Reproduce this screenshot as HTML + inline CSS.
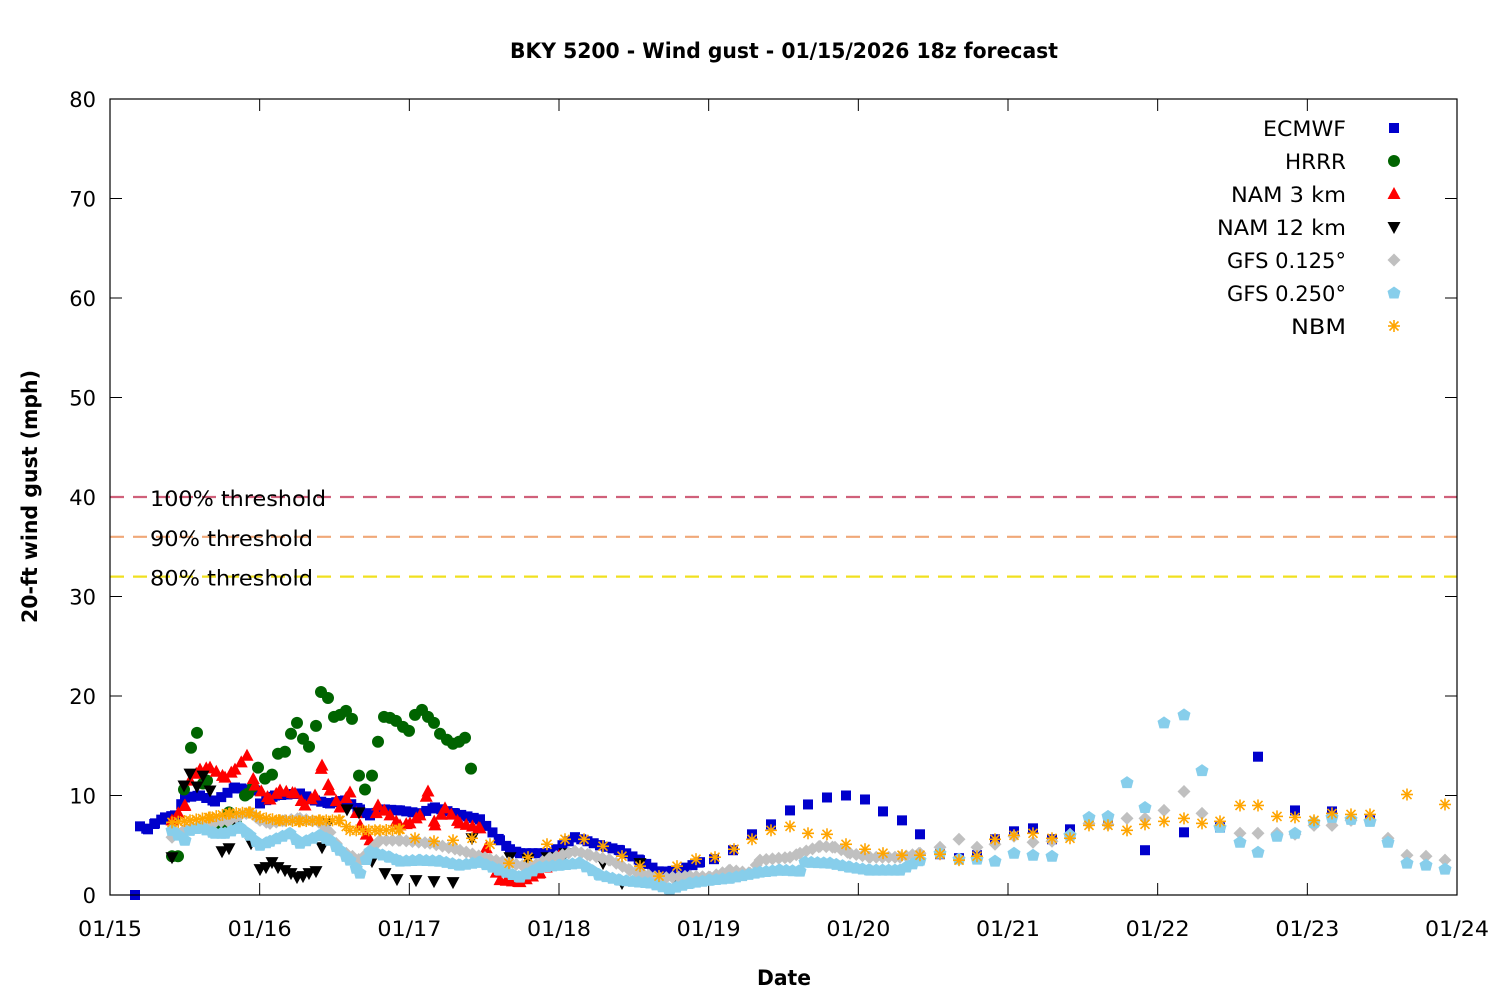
<!DOCTYPE html>
<html><head><meta charset="utf-8"><style>body{margin:0;background:#fff}svg{display:block;font-family:"DejaVu Sans","Liberation Sans",sans-serif}</style></head><body>
<svg id="s" width="1500" height="1000" xmlns="http://www.w3.org/2000/svg">
<rect width="1500" height="1000" fill="#fff"/>
<text x="510" y="58" font-size="21" font-weight="bold" textLength="548" lengthAdjust="spacingAndGlyphs">BKY 5200 - Wind gust - 01/15/2026 18z forecast</text>
<text x="757" y="985" font-size="21" font-weight="bold" textLength="54" lengthAdjust="spacingAndGlyphs">Date</text>
<text transform="translate(37,623) rotate(-90)" font-size="21" font-weight="bold" textLength="253" lengthAdjust="spacingAndGlyphs">20-ft wind gust (mph)</text>
<g id="ax"></g>
<g id="data"></g>
<rect x="110" y="99" width="1347" height="796" fill="none" stroke="#000" stroke-width="1.2"/>
</svg>
<script>
const NS="http://www.w3.org/2000/svg";
const X0=110,X1=1457,Y0=895,PY=9.95;
const ax=document.getElementById('ax'),dg=document.getElementById('data');
function el(p,tag,a,t){const e=document.createElementNS(NS,tag);for(const k in a)e.setAttribute(k,a[k]);if(t!==undefined)e.textContent=t;p.appendChild(e);return e;}
const Y=v=>Y0-v*PY;
for(let i=0;i<=8;i++){const y=Y(i*10);el(ax,'text',{x:96,y:y+8,'text-anchor':'end','font-size':21},String(i*10));
if(i>0&&i<8){el(ax,'line',{x1:X0,x2:X0+12,y1:y,y2:y,stroke:'#000'});el(ax,'line',{x1:X1-12,x2:X1,y1:y,y2:y,stroke:'#000'});}}
const days=['01/15','01/16','01/17','01/18','01/19','01/20','01/21','01/22','01/23','01/24'];
days.forEach((d,i)=>{const x=X0+i*(X1-X0)/9;el(ax,'text',{x:x-32,y:936,'font-size':21,textLength:64,lengthAdjust:'spacingAndGlyphs'},d);
if(i>0&&i<9){el(ax,'line',{x1:x,x2:x,y1:Y0,y2:Y0-12,stroke:'#000'});el(ax,'line',{x1:x,x2:x,y1:99,y2:111,stroke:'#000'});}});
[[40,'#d0607a','100% threshold',176],[36,'#f0a878','90% threshold',163],[32,'#f0e020','80% threshold',163]].forEach(([v,c,t,w])=>{
el(ax,'line',{x1:X0,x2:X1,y1:Y(v),y2:Y(v),stroke:c,'stroke-width':2.2,'stroke-dasharray':'14,9'});
el(ax,'text',{x:150,y:Y(v)+9,'font-size':21,textLength:w,lengthAdjust:'spacingAndGlyphs'},t);});
function dense(keys,step){const out=[];for(let i=0;i<keys.length-1;i++){const[a,va]=keys[i],[b,vb]=keys[i+1];for(let x=a;x<b;x+=step){out.push([x,va+(vb-va)*(x-a)/(b-a)]);}}out.push(keys[keys.length-1]);return out;}
function mk(p,type,x,y){
if(type=='sq')el(p,'rect',{x:x-5,y:y-5,width:10,height:10,fill:'#0000cc'});
else if(type=='ci')el(p,'circle',{cx:x,cy:y,r:6,fill:'#006400'});
else if(type=='tu')el(p,'polygon',{points:`${x},${y-7} ${x-6.5},${y+5} ${x+6.5},${y+5}`,fill:'#ff0000'});
else if(type=='td')el(p,'polygon',{points:`${x},${y+7} ${x-6.5},${y-5} ${x+6.5},${y-5}`,fill:'#000'});
else if(type=='di')el(p,'polygon',{points:`${x},${y-6.5} ${x+6.5},${y} ${x},${y+6.5} ${x-6.5},${y}`,fill:'#c0c0c0'});
else if(type=='pe')el(p,'polygon',{points:`${x},${y-6.5} ${x+6.5},${y-2} ${x+4.5},${y+5.5} ${x-4.5},${y+5.5} ${x-6.5},${y-2}`,fill:'#87ceeb'});
else if(type=='as'){const g=el(p,'g',{stroke:'#ffa500','stroke-width':1.6});
el(g,'line',{x1:x-6,x2:x+6,y1:y,y2:y});el(g,'line',{x1:x,x2:x,y1:y-6,y2:y+6});el(g,'line',{x1:x-4.5,x2:x+4.5,y1:y-4.5,y2:y+4.5});el(g,'line',{x1:x-4.5,x2:x+4.5,y1:y+4.5,y2:y-4.5});}}
function plot(type,pts){pts.forEach(([x,v])=>mk(dg,type,x,Y(v)));}
const ec=dense([[140,6.9],[148,6.6],[155,7.2],[165,7.8],[175,8],[185,9.8],[200,10],[215,9.4],[235,10.8],[255,10.5],[260,9.2],[275,10],[300,10.2],[315,9.5],[330,9.2],[345,9.5],[360,8.6],[370,8],[385,8.6],[400,8.5],[420,8.2],[435,8.8],[455,8.2],[480,7.6],[500,5.5],[510,4.6],[520,4.2],[550,4.2],[575,5.8],[600,5],[620,4.5],[640,3.5],[660,2.3],[680,2.5],[700,3.3]],6.24);
ec.unshift([135,0]);
ec.push([714,3.6],[733,4.5],[752,6.1],[771,7.1],[790,8.5],[808,9.1],[827,9.8],[846,10],[865,9.6],[883,8.4],[902,7.5],[920,6.1],[940,4.1],[959,3.7],[977,4],[995,5.6],[1014,6.4],[1033,6.7],[1052,5.6],[1070,6.6],[1089,7.5],[1108,7.5],[1145,4.5],[1184,6.3],[1220,6.8],[1258,13.9],[1295,8.5],[1332,8.4],[1370,7.5]);
plot('sq',ec);
plot('ci',[[172,3.9],[178,3.9],[184,10.6],[191,14.8],[197,16.3],[203,11.2],[207,11.5],[216,6.9],[222,6.9],[229,8.3],[236,7.2],[245,10],[248,10.2],[253,10.9],[258,12.8],[265,11.7],[272,12.1],[278,14.2],[285,14.4],[291,16.2],[297,17.3],[303,15.7],[309,14.9],[316,17],[321,20.4],[328,19.8],[334,17.9],[340,18.1],[346,18.5],[352,17.7],[359,12],[365,10.6],[372,12],[378,15.4],[384,17.9],[390,17.8],[396,17.5],[403,16.9],[409,16.5],[415,18.1],[422,18.6],[428,17.9],[434,17.3],[440,16.2],[447,15.6],[453,15.2],[459,15.4],[465,15.8],[471,12.7]]);
plot('tu',dense([[172,7.5],[185,9],[190,11.5],[200,12.6],[210,12.8],[225,11.8],[235,12.6],[247,14],[255,11],[270,9.6],[280,10.5],[295,10.2],[305,9],[315,10],[322,13],[330,10.5],[340,8.8],[350,10.3],[360,7],[370,5.5],[378,9],[390,8],[400,7],[410,7.2],[420,8],[428,10.4],[435,7],[445,8.7],[460,7.2],[480,6.7],[490,3.5],[500,1.5],[520,1.3],[540,2.2],[560,4]],6.24));
plot('td',[[172,3.8],[184,11],[190,12.2],[197,10.9],[203,12],[210,10.5],[222,4.4],[229,4.7],[236,7.3],[251,5.2],[260,2.6],[266,2.8],[272,3.3],[278,2.8],[285,2.5],[291,2.2],[297,1.8],[303,1.9],[309,2.2],[316,2.4],[322,4.8],[328,7.2],[347,8.6],[359,8.3],[372,3.4],[385,2.2],[397,1.6],[416,1.5],[434,1.4],[453,1.3],[472,5.7],[510,3.8],[528,3.6],[547,3.8],[565,4.2],[603,3.2],[622,1.2],[640,3.2],[659,1.4],[677,1.2]]);
const g1=dense([[172,5.8],[185,6.6],[200,6.9],[215,7.3],[230,7.5],[240,8],[250,8.3],[260,7.5],[270,7.2],[285,7.5],[300,7.7],[320,7.3],[330,6.3],[340,4.5],[360,3.5],[380,5.5],[400,5.5],[430,5.2],[460,4.5],[490,3.6],[510,3.2],[530,2.8],[550,3.7],[575,4.4],[590,4],[610,3.5],[630,2.5],[660,1.7],[690,1.9],[710,1.8],[730,2.5],[750,2.2],[760,3.5],[790,3.8],[800,4.2],[820,4.9],[835,4.8],[850,4.2],[870,3.8],[900,3.8],[920,4.2]],6.24);
g1.push([940,4.8],[959,5.6],[977,4.8],[995,5.1],[1014,5.9],[1033,5.3],[1052,5.4],[1070,6.1],[1089,7.2],[1108,7.1],[1127,7.7],[1145,7.7],[1164,8.5],[1184,10.4],[1202,8.2],[1220,6.9],[1240,6.2],[1258,6.2],[1277,6.2],[1295,6.1],[1314,7],[1332,7],[1351,7.5],[1370,7.5],[1388,5.7],[1407,4],[1426,3.9],[1445,3.5]);
plot('di',g1);
const g2=dense([[172,6.5],[185,5.5],[190,6.5],[200,6.8],[215,6.2],[225,6.2],[240,6.8],[250,6],[260,5],[270,5.4],[290,6.2],[300,5.2],[320,6],[330,5.5],[340,4.5],[350,3.5],[360,2.2],[370,4.4],[390,3.8],[400,3.4],[420,3.5],[440,3.4],[460,3],[480,3.3],[500,2.5],[520,1.8],[540,2.8],[560,3],[580,3.2],[600,2],[620,1.5],[650,1.2],[670,0.6],[690,1.2],[710,1.5],[730,1.7],[760,2.3],[780,2.5],[800,2.4],[805,3.3],[830,3.2],[850,2.8],[870,2.5],[900,2.5],[920,3.5]],6.24);
g2.push([940,4.2],[959,3.6],[977,3.6],[995,3.4],[1014,4.2],[1033,4],[1052,3.9],[1070,6],[1089,7.8],[1108,7.9],[1127,11.3],[1145,8.8],[1164,17.3],[1184,18.1],[1202,12.5],[1220,6.8],[1240,5.3],[1258,4.3],[1277,5.9],[1295,6.2],[1314,7.3],[1332,7.8],[1351,7.6],[1370,7.4],[1388,5.3],[1407,3.2],[1426,3],[1445,2.6]);
plot('pe',g2);
const nb=dense([[172,7.3],[190,7.5],[210,7.8],[230,8.2],[250,8.3],[260,7.8],[280,7.5],[300,7.4],[320,7.5],[340,7.5],[350,6.5],[380,6.5],[400,6.6]],6.24);
nb.push([415,5.7],[434,5.4],[453,5.5],[472,5.7],[490,5.1],[509,3.2],[528,3.8],[547,5.1],[565,5.6],[584,5.6],[603,4.9],[622,3.9],[640,2.9],[659,1.9],[677,2.9],[696,3.6],[715,3.8],[734,4.6],[752,5.6],[771,6.5],[790,6.9],[808,6.2],[827,6.1],[846,5.1],[865,4.6],[883,4.2],[902,4],[920,4],[940,4.1],[959,3.5],[977,3.9],[995,5.6],[1014,6],[1033,6.2],[1052,5.7],[1070,5.7],[1089,7],[1108,7],[1127,6.5],[1145,7.1],[1164,7.4],[1184,7.7],[1202,7.2],[1220,7.4],[1240,9],[1258,9],[1277,7.9],[1295,7.8],[1314,7.5],[1332,8.2],[1351,8.1],[1370,8.1],[1407,10.1],[1445,9.1]);
plot('as',nb);
[['ECMWF','sq',83],['HRRR','ci',61],['NAM 3 km','tu',115],['NAM 12 km','td',129],['GFS 0.125°','di',119],['GFS 0.250°','pe',119],['NBM','as',55]].forEach(([t,m,w],i)=>{
const y=128+i*33;el(ax,'text',{x:1346-w,y:y+8,'font-size':21,textLength:w,lengthAdjust:'spacingAndGlyphs'},t);mk(ax,m,1394,y);});
</script>
</body></html>
